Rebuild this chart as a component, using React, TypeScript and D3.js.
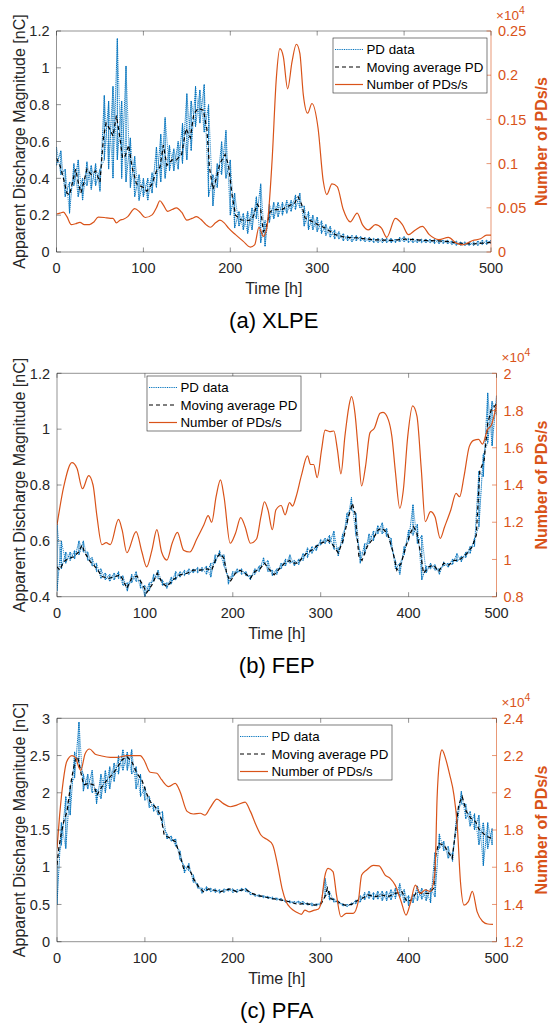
import * as d3 from "d3";

const FONT = "'Liberation Sans', Arial, Helvetica, sans-serif";
const BLUE = "#0072BD";
const ORANGE = "#D95319";
const AXIS = "#262626";

const timeTicks = [0, 100, 200, 300, 400, 500];
const legendLabels = ["PD data", "Moving average PD", "Number of PDs/s"];

// (a) XLPE
const xlpeChargeTicks = [0, 0.2, 0.4, 0.6, 0.8, 1, 1.2];
const xlpeRateTicks = [0, 0.05, 0.1, 0.15, 0.2, 0.25];
// [t, low, high] spread of the raw PD trace
const xlpeRaw = [
  [0, 0.47, 0.57], [5, 0.42, 0.55], [10, 0.3, 0.45], [15, 0.21, 0.38], [20, 0.36, 0.48],
  [25, 0.3, 0.5], [30, 0.28, 0.4], [35, 0.36, 0.49], [40, 0.34, 0.47], [45, 0.36, 0.48],
  [50, 0.33, 0.45], [55, 0.5, 0.85], [60, 0.45, 0.82], [65, 0.4, 0.9], [70, 0.5, 1.16],
  [75, 0.4, 0.82], [80, 0.38, 1.01], [85, 0.35, 0.62], [90, 0.3, 0.52], [95, 0.28, 0.42],
  [100, 0.3, 0.4], [105, 0.28, 0.4], [110, 0.32, 0.43], [115, 0.35, 0.57], [120, 0.38, 0.64],
  [125, 0.4, 0.73], [130, 0.44, 0.58], [135, 0.44, 0.56], [140, 0.45, 0.6], [145, 0.48, 0.7],
  [150, 0.5, 0.86], [155, 0.55, 0.82], [160, 0.68, 0.9], [165, 0.7, 0.88], [170, 0.65, 0.91],
  [175, 0.3, 0.8], [180, 0.25, 0.42], [185, 0.35, 0.48], [190, 0.42, 0.6], [195, 0.4, 0.66],
  [200, 0.2, 0.5], [205, 0.13, 0.32], [210, 0.14, 0.22], [215, 0.12, 0.21], [220, 0.1, 0.22],
  [225, 0.12, 0.24], [230, 0.18, 0.3], [235, 0.05, 0.37], [240, 0.03, 0.17], [245, 0.16, 0.26],
  [250, 0.18, 0.27], [255, 0.19, 0.27], [260, 0.2, 0.27], [265, 0.21, 0.28], [270, 0.22, 0.28],
  [275, 0.23, 0.31], [280, 0.24, 0.32], [285, 0.14, 0.25], [290, 0.12, 0.22], [295, 0.12, 0.2],
  [300, 0.11, 0.19], [305, 0.1, 0.17], [310, 0.09, 0.15], [315, 0.08, 0.14], [320, 0.07, 0.12],
  [325, 0.07, 0.11], [330, 0.06, 0.1], [335, 0.06, 0.09], [340, 0.055, 0.09], [345, 0.06, 0.09],
  [350, 0.06, 0.085], [355, 0.055, 0.08], [360, 0.055, 0.08], [365, 0.05, 0.075], [370, 0.05, 0.075],
  [375, 0.05, 0.075], [380, 0.05, 0.075], [385, 0.05, 0.075], [390, 0.05, 0.07], [395, 0.055, 0.08],
  [400, 0.055, 0.085], [405, 0.05, 0.075], [410, 0.05, 0.075], [415, 0.05, 0.07], [420, 0.05, 0.07],
  [425, 0.05, 0.07], [430, 0.05, 0.07], [435, 0.045, 0.07], [440, 0.045, 0.07], [445, 0.045, 0.065],
  [450, 0.045, 0.065], [455, 0.04, 0.06], [460, 0.035, 0.06], [465, 0.035, 0.055], [470, 0.035, 0.055],
  [475, 0.035, 0.055], [480, 0.035, 0.055], [485, 0.035, 0.06], [490, 0.04, 0.065], [495, 0.04, 0.065],
  [500, 0.045, 0.065],
];
const xlpeAverage = [
  [0, 0.51], [4, 0.47], [8, 0.4], [12, 0.32], [15, 0.31], [18, 0.37], [22, 0.45], [25, 0.38],
  [28, 0.32], [31, 0.37], [35, 0.45], [40, 0.42], [45, 0.44], [50, 0.38], [54, 0.62], [57, 0.7],
  [61, 0.67], [65, 0.63], [69, 0.74], [73, 0.62], [76, 0.51], [79, 0.52], [83, 0.58], [87, 0.46],
  [92, 0.37], [100, 0.35], [104, 0.33], [110, 0.37], [115, 0.44], [119, 0.46], [123, 0.58],
  [127, 0.47], [133, 0.5], [138, 0.5], [144, 0.53], [149, 0.67], [154, 0.62], [158, 0.75],
  [163, 0.78], [169, 0.77], [173, 0.67], [176, 0.46], [180, 0.34], [184, 0.4], [188, 0.48],
  [194, 0.53], [198, 0.47], [202, 0.31], [206, 0.2], [212, 0.175], [219, 0.17], [225, 0.175],
  [231, 0.26], [235, 0.23], [238, 0.11], [241, 0.13], [246, 0.22], [251, 0.23], [259, 0.23],
  [267, 0.25], [274, 0.265], [278, 0.3], [282, 0.26], [286, 0.185], [294, 0.166], [301, 0.148],
  [309, 0.13], [321, 0.094], [332, 0.08], [348, 0.076], [363, 0.067], [386, 0.063], [401, 0.07],
  [424, 0.063], [448, 0.058], [463, 0.049], [478, 0.043], [490, 0.048], [500, 0.052],
];
const xlpeRate = [
  [0, 0.043], [4, 0.044], [8, 0.045], [12, 0.04], [17, 0.031], [22, 0.032], [27, 0.0335], [32, 0.031],
  [38, 0.031], [43, 0.034], [48, 0.0395], [55, 0.039], [62, 0.038], [65, 0.038], [69, 0.033],
  [73, 0.036], [77, 0.037], [82, 0.04], [90, 0.049], [96, 0.045], [102, 0.039], [110, 0.042],
  [115, 0.05], [119, 0.058], [123, 0.053], [128, 0.046], [133, 0.048], [138, 0.05], [144, 0.045],
  [150, 0.036], [156, 0.038], [161, 0.04], [166, 0.037], [172, 0.031], [177, 0.028], [183, 0.033],
  [188, 0.036], [193, 0.033], [198, 0.027], [206, 0.0196], [215, 0.012], [223, 0.0056], [228, 0.008],
  [233, 0.028], [238, 0.0177], [242, 0.027], [248, 0.102], [253, 0.197], [257, 0.23], [261, 0.221],
  [266, 0.1845], [271, 0.215], [276, 0.235], [280, 0.225], [284, 0.178], [289, 0.157], [294, 0.168],
  [301, 0.14], [307, 0.08], [311, 0.065], [317, 0.077], [323, 0.074], [330, 0.048], [338, 0.034],
  [346, 0.044], [352, 0.031], [359, 0.025], [367, 0.031], [374, 0.027], [380, 0.0166], [390, 0.038],
  [398, 0.031], [405, 0.0196], [413, 0.025], [421, 0.029], [429, 0.0196], [440, 0.014], [451, 0.0166],
  [460, 0.01], [467, 0.008], [479, 0.013], [488, 0.015], [495, 0.019], [500, 0.019],
];

// (b) FEP
const fepChargeTicks = [0.4, 0.6, 0.8, 1, 1.2];
const fepRateTicks = [0.8, 1, 1.2, 1.4, 1.6, 1.8, 2];
const fepRaw = [
  [0, 0.42, 0.66], [5, 0.5, 0.6], [10, 0.52, 0.56], [15, 0.53, 0.56], [20, 0.535, 0.565],
  [25, 0.55, 0.6], [30, 0.56, 0.6], [35, 0.53, 0.56], [40, 0.51, 0.54], [45, 0.49, 0.52],
  [50, 0.465, 0.5], [55, 0.46, 0.485], [60, 0.455, 0.48], [65, 0.46, 0.485], [70, 0.465, 0.49],
  [75, 0.44, 0.475], [80, 0.42, 0.45], [85, 0.45, 0.48], [90, 0.455, 0.49], [95, 0.43, 0.46],
  [100, 0.4, 0.44], [105, 0.42, 0.45], [110, 0.455, 0.48], [115, 0.465, 0.495], [120, 0.44, 0.46],
  [125, 0.43, 0.45], [130, 0.445, 0.47], [135, 0.46, 0.49], [140, 0.47, 0.49], [145, 0.475, 0.495],
  [150, 0.48, 0.5], [155, 0.485, 0.5], [160, 0.485, 0.505], [165, 0.49, 0.505], [170, 0.48, 0.51],
  [175, 0.47, 0.52], [180, 0.52, 0.55], [185, 0.545, 0.565], [190, 0.51, 0.55], [195, 0.445, 0.47],
  [200, 0.47, 0.49], [205, 0.485, 0.5], [210, 0.48, 0.5], [215, 0.475, 0.49], [220, 0.46, 0.475],
  [225, 0.48, 0.5], [230, 0.49, 0.51], [235, 0.515, 0.54], [240, 0.49, 0.53], [245, 0.475, 0.495],
  [250, 0.48, 0.5], [255, 0.5, 0.52], [260, 0.51, 0.535], [265, 0.52, 0.55], [270, 0.51, 0.53],
  [275, 0.515, 0.535], [280, 0.53, 0.555], [285, 0.54, 0.575], [290, 0.555, 0.58], [295, 0.565, 0.585],
  [300, 0.585, 0.605], [305, 0.59, 0.61], [310, 0.59, 0.62], [315, 0.57, 0.635], [320, 0.545, 0.575],
  [325, 0.59, 0.625], [330, 0.66, 0.7], [335, 0.71, 0.755], [340, 0.62, 0.7], [345, 0.52, 0.56],
  [350, 0.55, 0.59], [355, 0.59, 0.625], [360, 0.6, 0.635], [365, 0.625, 0.655], [370, 0.625, 0.665],
  [375, 0.615, 0.645], [380, 0.58, 0.61], [385, 0.5, 0.53], [390, 0.48, 0.52], [395, 0.55, 0.58],
  [400, 0.6, 0.64], [405, 0.62, 0.73], [410, 0.59, 0.66], [415, 0.46, 0.62], [420, 0.485, 0.51],
  [425, 0.5, 0.52], [430, 0.495, 0.515], [435, 0.48, 0.5], [440, 0.51, 0.525], [445, 0.505, 0.52],
  [450, 0.515, 0.535], [455, 0.525, 0.555], [460, 0.525, 0.545], [465, 0.54, 0.56], [470, 0.555, 0.58],
  [475, 0.58, 0.61], [480, 0.65, 0.85], [485, 0.83, 0.91], [490, 0.95, 1.13], [495, 0.94, 1.1],
  [500, 1.05, 1.12],
];
const fepAverage = [
  [0, 0.507], [3, 0.495], [7.6, 0.525], [13, 0.537], [19, 0.543], [24.6, 0.56], [28.4, 0.585],
  [32, 0.555], [38, 0.525], [45.5, 0.5], [51, 0.472], [58.7, 0.466], [66, 0.472], [72, 0.478],
  [76, 0.454], [79.5, 0.43], [85, 0.466], [91, 0.474], [96.6, 0.448], [102, 0.414], [108, 0.442],
  [114, 0.484], [120, 0.448], [125, 0.436], [132.6, 0.462], [140, 0.478], [148, 0.484], [155, 0.495],
  [163, 0.495], [170, 0.5], [176, 0.495], [181, 0.537], [185.6, 0.555], [190, 0.537], [193, 0.484],
  [197, 0.454], [203, 0.484], [208, 0.495], [214, 0.484], [220, 0.466], [225, 0.49], [231, 0.5],
  [236, 0.52], [243.5, 0.49], [247, 0.478], [253, 0.5], [259, 0.52], [264.5, 0.53], [268, 0.52],
  [274, 0.52], [280, 0.543], [285.5, 0.56], [290, 0.567], [295, 0.58], [299, 0.59], [304.6, 0.597],
  [308.4, 0.603], [314, 0.585], [320, 0.557], [325.6, 0.603], [331, 0.68], [336, 0.734], [339, 0.7],
  [343.5, 0.543], [347, 0.53], [353, 0.58], [360, 0.61], [365.6, 0.64], [370, 0.645], [376, 0.627],
  [381.7, 0.567], [386.6, 0.495], [391.6, 0.52], [397, 0.58], [402, 0.627], [405.7, 0.651],
  [409.5, 0.627], [413, 0.567], [417, 0.484], [423, 0.507], [428.6, 0.513], [434, 0.49], [440, 0.52],
  [445.8, 0.513], [451.5, 0.53], [457, 0.53], [465, 0.55], [472.5, 0.58], [477, 0.62], [481, 0.85],
  [486, 0.89], [490, 1.02], [494, 1.07], [500, 1.09],
];
const fepRate = [
  [0, 1.185], [7.6, 1.39], [17, 1.52], [22.7, 1.49], [29, 1.38], [36, 1.45], [41, 1.4], [45.5, 1.23],
  [51, 1.08], [56, 1.09], [60.6, 1.08], [70, 1.215], [74, 1.16], [79.5, 1.036], [90, 1.15], [96.6, 1.04],
  [102, 0.96], [108, 1.05], [113.6, 1.16], [119, 1.04], [125, 0.997], [131, 1.087], [137, 1.146],
  [144, 1.05], [151, 1.04], [159, 1.11], [167, 1.185], [172, 1.235], [176, 1.2], [181, 1.337],
  [186, 1.427], [190, 1.337], [197, 1.087], [203, 1.14], [209, 1.225], [214, 1.176], [220, 1.087],
  [227, 1.11], [232, 1.23], [236, 1.31], [240, 1.266], [245, 1.16], [249, 1.266], [255, 1.29],
  [259.5, 1.24], [264.5, 1.305], [268, 1.287], [272, 1.337], [278, 1.45], [285, 1.556], [288.5, 1.51],
  [292, 1.51], [296, 1.44], [301, 1.59], [305, 1.695], [310, 1.687], [315, 1.69], [319, 1.59],
  [323, 1.46], [327.5, 1.66], [332, 1.82], [335, 1.875], [339, 1.785], [343, 1.57], [346.5, 1.395],
  [351, 1.5], [356, 1.68], [361, 1.705], [367.5, 1.785], [371, 1.79], [377, 1.75], [381, 1.66],
  [385, 1.47], [390, 1.275], [394, 1.373], [399, 1.66], [404.6, 1.825], [409.5, 1.77], [414.5, 1.48],
  [419, 1.203], [425, 1.257], [430, 1.23], [436, 1.113], [441, 1.176], [448, 1.266], [454, 1.355],
  [458, 1.337], [463, 1.445], [469, 1.606], [474, 1.64], [479.7, 1.645], [484, 1.62], [490, 1.7],
  [494, 1.72], [500, 1.83],
];

// (c) PFA
const pfaChargeTicks = [0, 0.5, 1, 1.5, 2, 2.5, 3];
const pfaRateTicks = [1.2, 1.4, 1.6, 1.8, 2, 2.2, 2.4];
const pfaRaw = [
  [0, 0.5, 1.1], [5, 1.3, 1.6], [10, 1.25, 1.95], [15, 1.7, 2.1], [20, 2.2, 2.55], [25, 2.4, 2.95],
  [30, 2.02, 2.25], [35, 2.05, 2.25], [40, 2.0, 2.3], [45, 1.85, 2.05], [50, 1.92, 2.25],
  [55, 2.0, 2.3], [60, 2.05, 2.35], [65, 2.15, 2.4], [70, 2.25, 2.5], [75, 2.3, 2.58], [80, 2.3, 2.55],
  [85, 2.25, 2.58], [90, 2.05, 2.35], [95, 1.95, 2.25], [100, 1.9, 2.08], [105, 1.8, 1.95],
  [110, 1.75, 1.85], [115, 1.7, 1.82], [120, 1.55, 1.75], [125, 1.38, 1.45], [130, 1.35, 1.42],
  [135, 1.28, 1.38], [140, 1.1, 1.22], [145, 0.92, 1.02], [150, 0.95, 1.05], [155, 0.8, 0.9],
  [160, 0.72, 0.78], [165, 0.65, 0.72], [170, 0.68, 0.74], [175, 0.67, 0.72], [180, 0.66, 0.71],
  [185, 0.65, 0.7], [190, 0.66, 0.71], [195, 0.68, 0.72], [200, 0.66, 0.71], [205, 0.66, 0.7],
  [210, 0.68, 0.72], [215, 0.67, 0.72], [220, 0.63, 0.67], [225, 0.61, 0.64], [230, 0.6, 0.63],
  [235, 0.59, 0.62], [240, 0.58, 0.61], [245, 0.57, 0.6], [250, 0.56, 0.59], [255, 0.55, 0.58],
  [260, 0.53, 0.56], [265, 0.52, 0.55], [270, 0.51, 0.54], [275, 0.52, 0.545], [280, 0.5, 0.54],
  [285, 0.49, 0.52], [290, 0.48, 0.52], [295, 0.48, 0.51], [300, 0.49, 0.53], [305, 0.6, 0.85],
  [310, 0.56, 0.68], [315, 0.53, 0.58], [320, 0.51, 0.55], [325, 0.48, 0.51], [330, 0.47, 0.5],
  [335, 0.49, 0.52], [340, 0.51, 0.56], [345, 0.53, 0.62], [350, 0.56, 0.66], [355, 0.58, 0.68],
  [360, 0.56, 0.66], [365, 0.57, 0.68], [370, 0.55, 0.68], [375, 0.55, 0.68], [380, 0.56, 0.7],
  [385, 0.58, 0.72], [390, 0.6, 0.78], [395, 0.52, 0.7], [400, 0.48, 0.62], [405, 0.52, 0.64],
  [410, 0.55, 0.75], [415, 0.57, 0.72], [420, 0.55, 0.7], [425, 0.52, 0.72], [430, 0.6, 1.2],
  [435, 1.25, 1.45], [440, 1.22, 1.35], [445, 1.12, 1.28], [450, 1.08, 1.2], [455, 1.55, 1.75],
  [460, 1.85, 2.02], [465, 1.65, 1.85], [470, 1.55, 1.75], [475, 1.5, 1.72], [480, 1.3, 1.7],
  [485, 1.02, 1.6], [490, 1.25, 1.6], [495, 1.3, 1.52],
];
const pfaAverage = [
  [0, 1.03], [2, 1.25], [4.5, 1.43], [7.6, 1.61], [11.4, 1.75], [14.4, 2.015], [17, 2.217],
  [20.8, 2.44], [23.5, 2.485], [26.5, 2.306], [30.3, 2.105], [36, 2.127], [41.7, 2.105], [45.5, 1.97],
  [51, 2.08], [56.8, 2.17], [62.5, 2.24], [68, 2.33], [74, 2.44], [79.5, 2.485], [85, 2.42], [91, 2.26],
  [96.6, 2.17], [102, 1.99], [106, 1.88], [111.7, 1.81], [115.5, 1.747], [119, 1.635], [122, 1.43],
  [128.8, 1.39], [134.5, 1.343], [140, 1.164], [144, 0.985], [149.6, 1.01], [155, 0.85], [161, 0.74],
  [166.7, 0.67], [172.3, 0.71], [178, 0.694], [185.6, 0.67], [197, 0.71], [204.5, 0.67], [214, 0.71],
  [221.6, 0.65], [229, 0.62], [235.6, 0.605], [243.5, 0.58], [255, 0.56], [264.5, 0.537], [274, 0.5],
  [281.7, 0.515], [293, 0.49], [300.8, 0.515], [304.6, 0.6], [307.6, 0.72], [311.5, 0.58],
  [319.8, 0.537], [327.5, 0.49], [335, 0.5], [342.7, 0.56], [348.5, 0.59], [354, 0.627], [362, 0.605],
  [369.5, 0.627], [377, 0.605], [384.7, 0.65], [392.4, 0.67], [398, 0.537], [403, 0.56], [409.5, 0.67],
  [415, 0.65], [423, 0.65], [428.6, 0.717], [431, 1.164], [434, 1.32], [440, 1.3], [445.8, 1.19],
  [449.6, 1.12], [453.4, 1.48], [457, 1.84], [461, 1.95], [465.6, 1.75], [470.6, 1.66], [476.3, 1.61],
  [480, 1.51], [488, 1.42], [496, 1.38],
];
const pfaRate = [
  [0, 1.7], [3, 1.88], [7, 2.06], [11, 2.167], [17, 2.2], [21, 2.19], [24.6, 2.14], [27, 2.12],
  [32, 2.21], [37, 2.235], [43.5, 2.207], [49, 2.2], [60.6, 2.19], [68, 2.19], [79.5, 2.2], [94.7, 2.2],
  [99, 2.176], [106, 2.11], [113.6, 2.105], [119, 2.07], [127, 2.033], [134.5, 2.05], [140, 2.006],
  [148, 1.9], [155, 1.886], [163, 1.89], [168.5, 1.88], [174, 1.917], [182, 1.966], [189, 1.943],
  [197, 1.925], [204.5, 1.934], [214, 1.95], [220, 1.9], [227, 1.82], [232, 1.773], [240, 1.746],
  [245.4, 1.72], [251, 1.61], [256, 1.487], [260.7, 1.415], [266, 1.38], [272, 1.36], [278, 1.347],
  [282, 1.37], [287, 1.36], [293, 1.37], [297, 1.374], [300.8, 1.415], [304.6, 1.55], [308.4, 1.594],
  [314, 1.576], [318, 1.45], [323, 1.334], [329, 1.352], [337, 1.352], [342.7, 1.415], [346.6, 1.558],
  [352.3, 1.585], [360, 1.61], [366.4, 1.607], [373.3, 1.558], [379, 1.54], [384.7, 1.504],
  [391.6, 1.415], [397, 1.343], [402, 1.406], [407.6, 1.504], [413.4, 1.46], [419, 1.478],
  [424.8, 1.47], [430, 1.576], [432.4, 1.97], [435.5, 2.185], [438, 2.23], [442, 2.185], [446.6, 2.1],
  [451.5, 1.99], [455.3, 1.827], [459, 1.522], [463, 1.397], [468, 1.415], [472.5, 1.47], [478, 1.36],
  [484, 1.31], [490, 1.295], [496, 1.293],
];

const panels = [
  {
    id: "a", title: "(a) XLPE", raw: xlpeRaw, avg: xlpeAverage, rate: xlpeRate,
    chargeTicks: xlpeChargeTicks, rateTicks: xlpeRateTicks,
    left: 56.5, right: 491, top: 31, bottom: 252, legendX: 333, legendY: 38,
  },
  {
    id: "b", title: "(b) FEP", raw: fepRaw, avg: fepAverage, rate: fepRate,
    chargeTicks: fepChargeTicks, rateTicks: fepRateTicks,
    left: 57, right: 496.5, top: 373.3, bottom: 596.7, legendX: 147, legendY: 376,
  },
  {
    id: "c", title: "(c) PFA", raw: pfaRaw, avg: pfaAverage, rate: pfaRate,
    chargeTicks: pfaChargeTicks, rateTicks: pfaRateTicks,
    left: 57, right: 496.5, top: 718.3, bottom: 941.7, legendX: 238, legendY: 725,
  },
];

const fmt = (v) => String(+v.toFixed(3));

function Panel({ p }) {
  const x = d3.scaleLinear().domain([0, 500]).range([p.left, p.right]);
  const yL = d3.scaleLinear().domain(d3.extent(p.chargeTicks)).range([p.bottom, p.top]);
  const yR = d3.scaleLinear().domain(d3.extent(p.rateTicks)).range([p.bottom, p.top]);

  const lineL = d3.line().x((d) => x(d[0])).y((d) => yL(d[1]));
  // the raw trace swings between its low and high at every sample; drawn both ways
  const rawDown = lineL(p.raw.flatMap(([t, lo, hi]) => [[t, hi], [t, lo]]));
  const rawUp = lineL(p.raw.flatMap(([t, lo, hi]) => [[t, lo], [t, hi]]));
  const avgPath = lineL(p.avg);
  const ratePath = d3.line().curve(d3.curveMonotoneX).x((d) => x(d[0])).y((d) => yR(d[1]))(p.rate);

  const tick = 4.5;
  const midY = (p.top + p.bottom) / 2;
  const midX = (p.left + p.right) / 2;
  const clip = "clip-" + p.id;
  const lx = p.legendX, ly = p.legendY;
  const rows = [11.5, 29, 46.5];

  return (
    <g fontFamily={FONT}>
      <defs>
        <clipPath id={clip}>
          <rect x={p.left} y={p.top - 1} width={p.right - p.left} height={p.bottom - p.top + 2} />
        </clipPath>
      </defs>
      <g clipPath={`url(#${clip})`} fill="none">
        <path d={rawDown} stroke={BLUE} strokeWidth={1} strokeDasharray="1.2 0.7" />
        <path d={rawUp} stroke={BLUE} strokeWidth={0.8} strokeDasharray="1.2 0.9" />
        <path d={avgPath} stroke="#000" strokeWidth={1.2} strokeDasharray="4 3" />
        <path d={ratePath} stroke={ORANGE} strokeWidth={1.2} />
      </g>

      {/* box */}
      <line x1={p.left} x2={p.right} y1={p.top} y2={p.top} stroke={AXIS} strokeWidth={0.5} />
      <line x1={p.left} x2={p.right} y1={p.bottom} y2={p.bottom} stroke={AXIS} strokeWidth={0.5} />
      <line x1={p.left} x2={p.left} y1={p.top} y2={p.bottom} stroke={AXIS} strokeWidth={0.5} />
      <line x1={p.right} x2={p.right} y1={p.top} y2={p.bottom} stroke={ORANGE} strokeWidth={0.6} />

      {timeTicks.map((t) => (
        <g key={"x" + t}>
          <line x1={x(t)} x2={x(t)} y1={p.bottom} y2={p.bottom - tick} stroke={AXIS} strokeWidth={0.5} />
          <line x1={x(t)} x2={x(t)} y1={p.top} y2={p.top + tick} stroke={AXIS} strokeWidth={0.5} />
          <text x={x(t)} y={p.bottom + 21} textAnchor="middle" fontSize={14.5} fill={AXIS}>{t}</text>
        </g>
      ))}
      {p.chargeTicks.map((v) => (
        <g key={"l" + v}>
          <line x1={p.left} x2={p.left + tick} y1={yL(v)} y2={yL(v)} stroke={AXIS} strokeWidth={0.5} />
          <text x={p.left - 7} y={yL(v)} dy="0.36em" textAnchor="end" fontSize={14.5} fill={AXIS}>{fmt(v)}</text>
        </g>
      ))}
      {p.rateTicks.map((v) => (
        <g key={"r" + v}>
          <line x1={p.right - tick} x2={p.right} y1={yR(v)} y2={yR(v)} stroke={ORANGE} strokeWidth={0.6} />
          <text x={p.right + 7} y={yR(v)} dy="0.36em" textAnchor="start" fontSize={14.5} fill={ORANGE}>{fmt(v)}</text>
        </g>
      ))}
      <text x={p.right + 5} y={p.top - 11} fontSize={13.5} fill={ORANGE}>
        ×10<tspan fontSize={10.5} dy={-6}>4</tspan>
      </text>

      <text x={midX} y={p.bottom + 42} textAnchor="middle" fontSize={16} fill={AXIS}>Time [h]</text>
      <text transform={`translate(19,${midY}) rotate(-90)`} textAnchor="middle" dominantBaseline="central"
        fontSize={16} fill={AXIS}>Apparent Discharge Magnitude [nC]</text>
      <text transform={`translate(541,${midY}) rotate(-90)`} textAnchor="middle" dominantBaseline="central"
        fontSize={16} fontWeight="bold" fill={ORANGE}>Number of PDs/s</text>
      <text x={midX} y={p.bottom + 76} textAnchor="middle" fontSize={22} fill="#000">{p.title}</text>

      {/* legend */}
      <rect x={lx} y={ly} width={154} height={55} fill="#fff" stroke={AXIS} strokeWidth={0.6} />
      <line x1={lx + 2} x2={lx + 30} y1={ly + rows[0]} y2={ly + rows[0]} stroke={BLUE} strokeWidth={1} strokeDasharray="1 0.8" />
      <line x1={lx + 2} x2={lx + 30} y1={ly + rows[1]} y2={ly + rows[1]} stroke="#000" strokeWidth={1.2} strokeDasharray="4 3" />
      <line x1={lx + 2} x2={lx + 30} y1={ly + rows[2]} y2={ly + rows[2]} stroke={ORANGE} strokeWidth={1.2} />
      {legendLabels.map((s, i) => (
        <text key={s} x={lx + 33.5} y={ly + rows[i]} dy="0.36em" fontSize={13.3} fill="#000">{s}</text>
      ))}
    </g>
  );
}

export default function App() {
  return (
    <svg width={548} height={1023} style={{ position: "absolute", left: 0, top: 0, background: "#fff" }}>
      {panels.map((p) => (
        <Panel key={p.id} p={p} />
      ))}
    </svg>
  );
}
